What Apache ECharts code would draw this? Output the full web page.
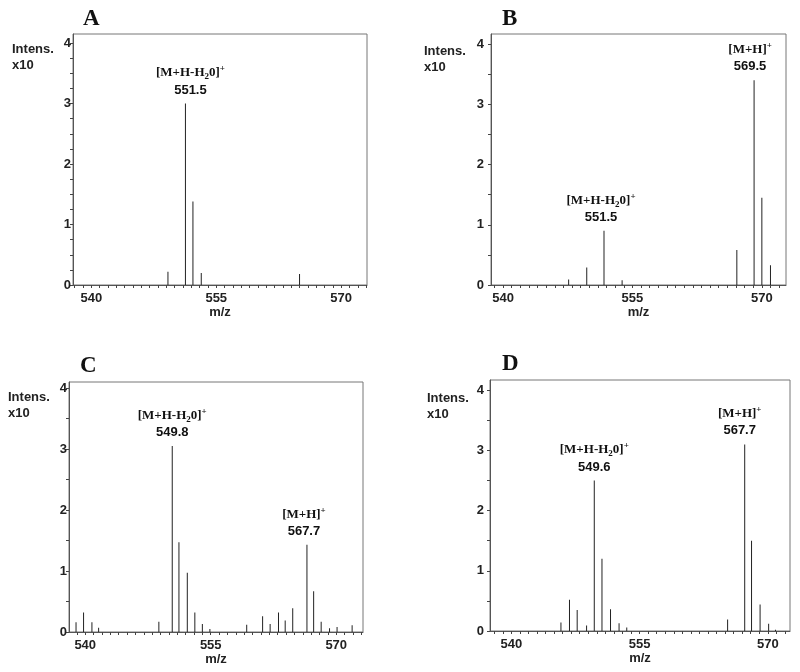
<!DOCTYPE html>
<html>
<head>
<meta charset="utf-8">
<script src="https://cdn.jsdelivr.net/npm/echarts@6/dist/echarts.min.js"></script>
<style>html,body{margin:0;padding:0;background:#fff}#c{width:800px;height:672px}</style>
</head>
<body>
<div id="c"></div>
<script>
// ---- data ----
var panelNames = ['A', 'B', 'C', 'D'];
var xTickLabels = [540, 555, 570];
var yTickLabels = [0, 1, 2, 3, 4];

var mzA = [549.2, 551.3, 552.2, 553.2, 565.0];
var intA = [0.22, 3.0, 1.38, 0.20, 0.18];

var mzB = [547.6, 549.7, 551.7, 553.8, 567.1, 569.1, 570.0, 571.0];
var intB = [0.09, 0.29, 0.90, 0.08, 0.58, 3.40, 1.45, 0.33];

var mzC = [538.9, 539.8, 540.8, 541.6, 548.8, 550.4, 551.2, 552.2, 553.1, 554.0, 554.9,
           559.3, 561.2, 562.1, 563.1, 563.9, 564.8, 566.5, 567.3, 568.2, 569.2, 570.1, 571.9];
var intC = [0.16, 0.32, 0.16, 0.07, 0.17, 3.05, 1.47, 0.97, 0.32, 0.13, 0.05,
            0.12, 0.26, 0.13, 0.32, 0.19, 0.39, 1.43, 0.67, 0.17, 0.06, 0.08, 0.11];

var mzD = [545.8, 546.8, 547.7, 548.8, 549.7, 550.6, 551.6, 552.6, 553.5,
           565.3, 567.3, 568.1, 569.1, 570.1, 570.9];
var intD = [0.14, 0.52, 0.35, 0.09, 2.50, 1.20, 0.36, 0.13, 0.06,
            0.19, 3.10, 1.50, 0.44, 0.12, 0.02];

// annotations: peak index, ion text, m/z text
var annA = [[1, 'MHH2O', '551.5']];
var annB = [[2, 'MHH2O', '551.5'], [5, 'MH', '569.5']];
var annC = [[5, 'MHH2O', '549.8'], [17, 'MH', '567.7']];
var annD = [[4, 'MHH2O', '549.6'], [10, 'MH', '567.7']];

// ---- layout / style ----
var grids = [
  {left: 73, top: 34, width: 294, height: 251},
  {left: 491, top: 34, width: 295, height: 251},
  {left: 69, top: 382, width: 294, height: 250},
  {left: 490, top: 380, width: 300, height: 251}
];
var xRanges = [[537.8, 573.1], [538.6, 572.8], [538.06, 573.2], [537.5, 572.6]];
var yMax = [4.15, 4.17, 4.1, 4.17];
var yMinorStep = [0.25, 0.5, 0.5, 0.5];
var yLabelMargin = [2, 7, 2, 6];
var letterPos = [[83, 8], [502, 8], [80, 355], [502, 353]];
var intensPos = [[12, 41], [424, 43], [8, 389], [427, 390]];
var labelShift = [[5], [-3, -4], [0, -3], [0, -5]];

var sans = '"Liberation Sans", Arial, sans-serif';
var serif = '"Liberation Serif", "Times New Roman", serif';

var ionText = {
  MHH2O: '{ion|[M+H-H}{sub|2}{ion|0]}{sup|+}',
  MH: '{ion|[M+H]}{sup|+}'
};

var mzs = [mzA, mzB, mzC, mzD];
var ints = [intA, intB, intC, intD];
var anns = [annA, annB, annC, annD];

function range(a, b, step) {
  var out = [];
  for (var v = a; v <= b + 1e-9; v += step) out.push(Math.round(v * 100) / 100);
  return out;
}

var option = {
  animation: false,
  backgroundColor: '#fff',
  title: [],
  grid: [], xAxis: [], yAxis: [], series: []
};

for (var i = 0; i < 4; i++) {
  option.title.push({
    text: panelNames[i], left: letterPos[i][0], top: letterPos[i][1], padding: 0,
    textStyle: {fontFamily: serif, fontWeight: 'bold', fontSize: 23, color: '#111'}
  });
  option.title.push({
    text: 'Intens.\nx10', left: intensPos[i][0], top: intensPos[i][1], padding: 0,
    textStyle: {fontFamily: sans, fontWeight: 'bold', fontSize: 13, lineHeight: 16, color: '#222'}
  });
  var g = grids[i];
  option.grid.push({left: g.left, top: g.top, width: g.width, height: g.height,
    show: true, borderColor: '#777', borderWidth: 1, backgroundColor: 'transparent'});
  var xr = xRanges[i];
  option.xAxis.push({
    type: 'value', gridIndex: i, min: xr[0], max: xr[1],
    name: 'm/z', nameLocation: 'middle', nameGap: 20,
    nameTextStyle: {fontFamily: sans, fontWeight: 'bold', fontSize: 13, color: '#222'},
    axisLine: {show: true, onZero: false, lineStyle: {color: '#555', width: 1}},
    axisTick: {show: true, customValues: range(Math.ceil(xr[0]), Math.floor(xr[1]), 1),
      length: 3, lineStyle: {color: '#444'}},
    axisLabel: {customValues: xTickLabels, margin: 7,
      fontFamily: sans, fontWeight: 'bold', fontSize: 13, color: '#222'},
    splitLine: {show: false}
  });
  option.yAxis.push({
    type: 'value', gridIndex: i, min: 0, max: yMax[i],
    axisLine: {show: true, lineStyle: {color: '#555', width: 1}},
    axisTick: {show: true, customValues: range(0, 4, yMinorStep[i]), length: 3,
      lineStyle: {color: '#444'}},
    axisLabel: {customValues: yTickLabels, margin: yLabelMargin[i],
      fontFamily: sans, fontWeight: 'bold', fontSize: 13, color: '#222'},
    splitLine: {show: false}
  });
  var data = [];
  for (var k = 0; k < mzs[i].length; k++) {
    data.push({value: [mzs[i][k], ints[i][k]]});
  }
  anns[i].forEach(function (a, j) {
    var item = data[a[0]];
    item.label = {
      show: true, position: 'top', distance: 5,
      offset: [labelShift[i][j] || 0, 0],
      formatter: ionText[a[1]] + '\n{mz|' + a[2] + '}',
      rich: {
        ion: {fontFamily: serif, fontWeight: 'bold', fontSize: 13, lineHeight: 17, color: '#111'},
        sub: {fontFamily: serif, fontWeight: 'bold', fontSize: 9, lineHeight: 17, verticalAlign: 'bottom', color: '#111'},
        sup: {fontFamily: serif, fontWeight: 'bold', fontSize: 9, lineHeight: 17, verticalAlign: 'top', color: '#111'},
        mz: {fontFamily: sans, fontWeight: 'bold', fontSize: 13, lineHeight: 17, color: '#111', align: 'center'}
      }
    };
  });
  option.series.push({
    type: 'bar', xAxisIndex: i, yAxisIndex: i, barWidth: 1,
    itemStyle: {color: '#222'}, silent: true, data: data
  });
}

var chart = echarts.init(document.getElementById('c'), null, {renderer: 'canvas'});
chart.setOption(option);
</script>
</body>
</html>
